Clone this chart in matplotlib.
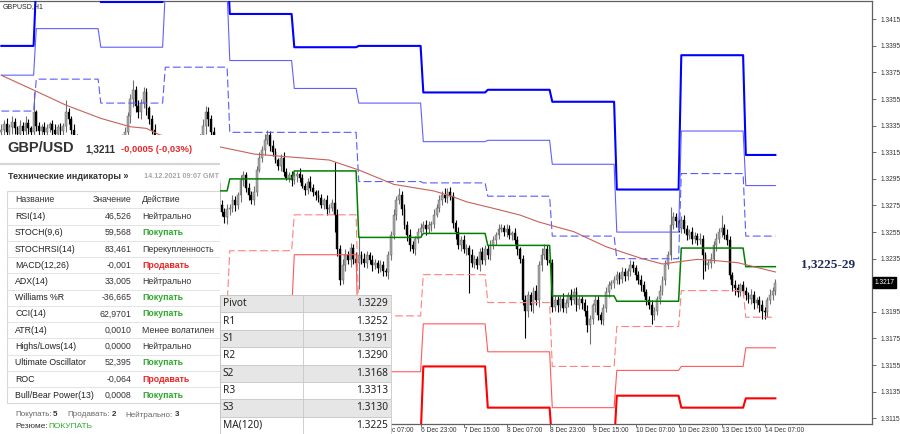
import matplotlib.pyplot as plt
import numpy as np
from matplotlib.patches import Rectangle
from matplotlib.transforms import blended_transform_factory

plt.rcParams['font.family'] = ['Liberation Sans', 'DejaVu Sans']

# GBPUSD H1 closes, in pips above 1.3000, one list per daily pivot period
closes_by_day = [
    [332, 336, 330, 334, 338, 333, 329, 335, 331, 337, 333, 330, 345],
    [335, 331, 334, 330, 333, 336, 332, 329, 334, 331, 335, 345, 340, 332, 326, 322, 318, 315, 310, 312, 308, 305, 310, 312],
    [315, 318, 316, 320, 318, 322, 320, 324, 326, 330, 342, 355, 362, 350, 345, 352, 360, 348, 340, 332, 325, 320, 318, 322],
    [312, 315, 318, 314, 320, 316, 322, 318, 315, 320, 324, 320, 326, 324, 335, 345, 340, 330, 312, 292, 275, 270, 266, 272],
    [273, 279, 275, 283, 294, 298, 288, 283, 279, 285, 302, 311, 317, 324, 328, 320, 315, 309, 305, 311, 300, 296, 298, 294],
    [297, 299, 296, 290, 287, 293, 288, 285, 283, 281, 275, 279, 272, 273, 277, 268, 242, 219, 230, 238, 234, 243, 235, 232],
    [238, 235, 232, 238, 234, 230, 232, 228, 230, 226, 225, 238, 253, 268, 279, 283, 272, 260, 253, 245, 242, 250, 255, 258],
    [260, 257, 260, 261, 268, 273, 279, 283, 281, 285, 282, 262, 255, 245, 249, 242, 243, 238, 232, 235, 230, 240, 234, 242],
    [238, 245, 249, 253, 257, 258, 255, 257, 253, 254, 249, 242, 235, 204, 196, 208, 200, 211, 204, 230, 238, 242, 234, 232],
    [199, 204, 200, 205, 198, 202, 208, 204, 210, 200, 205, 202, 196, 185, 190, 200, 204, 193, 189, 198, 210, 215, 217, 219],
    [223, 220, 225, 222, 226, 230, 228, 223, 219, 215, 210, 204, 200, 193, 196, 205, 211, 219, 230, 238, 260, 266, 263, 258],
    [264, 257, 253, 255, 250, 252, 249, 250, 238, 230, 232, 235, 245, 250, 255, 258, 253, 249, 223, 215, 213, 210, 215, 211],
    [208, 205, 208, 202, 204, 200, 196, 195, 204, 208, 211, 217],
]
first_open = 330

# upper / lower shadow length of each candle, pips
wick_up_by_day = [
    [4, 3, 5, 2, 4, 3, 2, 4, 3, 5, 3, 2, 15],
    [2, 3, 2, 4, 3, 2, 3, 4, 2, 3, 2, 9, 3, 2, 4, 3, 2, 3, 4, 2, 3, 4, 2, 3],
    [3, 2, 4, 3, 2, 3, 4, 2, 3, 4, 3, 4, 7, 3, 4, 3, 4, 3, 2, 3, 4, 3, 2, 3],
    [3, 2, 4, 3, 2, 3, 4, 3, 2, 3, 4, 3, 2, 3, 5, 5, 4, 3, 4, 6, 3, 4, 3, 4],
    [3, 4, 3, 2, 4, 3, 2, 4, 3, 5, 3, 4, 3, 5, 4, 3, 4, 3, 2, 3, 4, 3, 2, 3],
    [3, 2, 4, 3, 2, 3, 4, 3, 2, 4, 3, 2, 4, 3, 3, 31, 4, 3, 5, 4, 3, 4, 3, 5],
    [14, 3, 4, 3, 2, 4, 3, 2, 4, 3, 2, 3, 3, 4, 3, 5, 3, 4, 3, 4, 3, 2, 3, 4],
    [3, 4, 3, 2, 4, 3, 4, 3, 5, 3, 4, 3, 2, 4, 3, 4, 3, 2, 4, 3, 2, 3, 4, 3],
    [3, 4, 3, 2, 4, 3, 2, 4, 3, 2, 4, 3, 2, 3, 4, 3, 2, 3, 4, 3, 5, 4, 3, 2],
    [3, 4, 3, 2, 4, 3, 2, 4, 3, 4, 3, 2, 3, 4, 3, 2, 4, 3, 2, 3, 4, 3, 2, 3],
    [3, 2, 4, 3, 2, 4, 3, 2, 3, 4, 3, 2, 3, 4, 3, 2, 4, 3, 4, 3, 14, 4, 3, 2],
    [3, 4, 3, 2, 4, 3, 2, 4, 3, 2, 3, 4, 3, 4, 3, 10, 3, 4, 3, 2, 4, 3, 2, 3],
    [3, 2, 4, 3, 2, 3, 4, 3, 2, 4, 3, 3],
]
wick_dn_by_day = [
    [5, 4, 6, 3, 5, 4, 3, 5, 4, 6, 4, 3, 5],
    [4, 3, 5, 3, 4, 3, 4, 5, 3, 4, 3, 5, 4, 3, 5, 4, 3, 4, 5, 3, 4, 5, 3, 4],
    [4, 3, 5, 4, 3, 4, 5, 3, 4, 5, 4, 5, 6, 5, 4, 5, 4, 5, 4, 3, 4, 5, 4, 3],
    [4, 3, 5, 4, 3, 4, 5, 4, 3, 4, 5, 4, 3, 4, 5, 6, 5, 4, 5, 6, 4, 3, 4, 5],
    [4, 3, 4, 3, 5, 4, 3, 4, 3, 4, 3, 2, 3, 4, 3, 4, 3, 2, 3, 4, 3, 2, 3, 4],
    [3, 4, 3, 2, 4, 3, 2, 3, 4, 3, 2, 3, 4, 3, 2, 13, 5, 4, 3, 4, 3, 5, 4, 3],
    [20, 4, 3, 4, 3, 4, 3, 4, 3, 4, 3, 5, 4, 3, 4, 3, 4, 3, 5, 4, 3, 4, 3, 4],
    [3, 4, 3, 4, 3, 2, 3, 4, 3, 4, 3, 4, 5, 3, 4, 3, 4, 29, 3, 4, 3, 4, 3, 4],
    [3, 4, 3, 4, 3, 2, 3, 4, 3, 4, 3, 4, 3, 4, 21, 5, 4, 6, 4, 5, 4, 3, 4, 3],
    [4, 3, 5, 4, 3, 4, 3, 4, 3, 4, 3, 5, 4, 5, 14, 4, 5, 4, 3, 4, 3, 4, 3, 4],
    [3, 4, 3, 4, 3, 4, 3, 4, 3, 4, 3, 4, 3, 7, 4, 3, 4, 3, 4, 3, 4, 3, 4, 3],
    [4, 3, 4, 3, 4, 3, 4, 3, 18, 4, 3, 4, 3, 4, 3, 4, 3, 4, 3, 4, 5, 4, 3, 4],
    [4, 3, 4, 5, 4, 5, 6, 5, 4, 3, 4, 3],
]

# daily pivot levels (one value per day above)
lvl_R3 = [1.3395, 1.3445, 1.3428, 1.3460, 1.3419, 1.3394, 1.3395, 1.3360, 1.3362, 1.3353, 1.3287, 1.3388, 1.3313]
lvl_R2 = [1.3373, 1.3408, 1.3394, 1.3436, 1.3384, 1.3363, 1.3352, 1.3323, 1.3324, 1.3306, 1.3255, 1.3331, 1.3290]
lvl_R1 = [1.3346, 1.3370, 1.3352, 1.3379, 1.3330, 1.3330, 1.3293, 1.3292, 1.3282, 1.3252, 1.3235, 1.3299, 1.3252]
lvl_P = [1.3300, 1.3318, 1.3310, 1.3286, 1.3295, 1.3301, 1.3251, 1.3254, 1.3245, 1.3207, 1.3203, 1.3243, 1.3229]
lvl_S1 = [1.3262, 1.3280, 1.3268, 1.3200, 1.3241, 1.3268, 1.3192, 1.3223, 1.3202, 1.3154, 1.3184, 1.3211, 1.3191]
lvl_S2 = [1.3235, 1.3255, 1.3245, 1.3170, 1.3195, 1.3238, 1.3150, 1.3186, 1.3165, 1.3123, 1.3151, 1.3154, 1.3168]
lvl_S3 = [1.3195, 1.3215, 1.3205, 1.3130, 1.3160, 1.3200, 1.3100, 1.3154, 1.3123, 1.3095, 1.3132, 1.3123, 1.3130]

# MA(120) read at some bars, pips above 1.3000
ma_bar = [0, 12, 24, 37, 48, 54, 59, 81, 94, 106, 122, 133, 146, 161, 168, 173, 183, 193, 200, 213, 225, 238, 246, 252, 259, 266, 274, 280, 288]
ma_pips = [372.9, 361.8, 350.5, 340.5, 334.2, 333.0, 328.0, 319.2, 313.7, 311.7, 309.2, 301.7, 290.9, 285.9, 281.6, 277.8,
           272.9, 267.8, 262.6, 255.3, 244.0, 235.3, 231.0, 232.7, 234.5, 233.5, 232.0, 229.0, 225.0]

tick_bars = [140, 156, 172, 188, 204, 220, 236, 252, 268, 284]
tick_text = ['6 Dec 07:00', '6 Dec 23:00', '7 Dec 15:00', '8 Dec 07:00', '8 Dec 23:00',
             '9 Dec 15:00', '10 Dec 07:00', '10 Dec 23:00', '13 Dec 15:00', '14 Dec 07:00']
price_ticks = [1.3115, 1.3135, 1.3155, 1.3175, 1.3195, 1.3215, 1.3235, 1.3255,
               1.3275, 1.3295, 1.3315, 1.3335, 1.3355, 1.3375, 1.3395, 1.3415]
last_price = 1.3217

ind_names = ['RSI(14)', 'STOCH(9,6)', 'STOCHRSI(14)', 'MACD(12,26)', 'ADX(14)', 'Williams %R', 'CCI(14)',
             'ATR(14)', 'Highs/Lows(14)', 'Ultimate Oscillator', 'ROC', 'Bull/Bear Power(13)']
ind_values = ['46,526', '59,568', '83,461', '-0,001', '33,005', '-36,665', '62,9701',
              '0,0010', '0,0000', '52,395', '-0,064', '0,0008']
ind_actions = ['Нейтрально', 'Покупать', 'Перекупленность', 'Продавать', 'Нейтрально', 'Покупать', 'Покупать',
               'Менее волатилен', 'Нейтрально', 'Покупать', 'Продавать', 'Покупать']

piv_names = ['Pivot', 'R1', 'S1', 'R2', 'S2', 'R3', 'S3', 'MA(120)']
piv_values = ['1.3229', '1.3252', '1.3191', '1.3290', '1.3168', '1.3313', '1.3130', '1.3225']


# ---------- build candles ----------
day_counts = [len(d) for d in closes_by_day]
closes = 1.3 + np.concatenate(closes_by_day) / 10000.0
opens = np.r_[1.3 + first_open / 10000.0, closes[:-1]]
highs = np.maximum(opens, closes) + np.concatenate(wick_up_by_day) / 10000.0
lows = np.minimum(opens, closes) - np.concatenate(wick_dn_by_day) / 10000.0
bars = np.arange(len(closes))
bull = closes >= opens

fig = plt.figure(figsize=(9, 4.34), dpi=100)
ax = fig.add_axes([0, 10 / 434, 872 / 900, 423 / 434])
ax.set_facecolor('white')

ax.vlines(bars[bull], lows[bull], highs[bull], color='#707070', lw=0.8, zorder=2)
ax.vlines(bars[~bull], lows[~bull], highs[~bull], color='black', lw=0.8, zorder=2)
ax.bar(bars, closes - opens, bottom=opens, width=0.7,
       color=np.where(bull, '#a8a8a8', 'black'), edgecolor=np.where(bull, '#5a5a5a', 'black'),
       linewidth=0.3, zorder=2.5)

dash = (0, (7, 3))
levels = [
    (lvl_R3, '#0000ff', 1.5, '-'),
    (lvl_R2, '#6060ff', 0.8, '-'),
    (lvl_R1, '#5a5aff', 0.8, dash),
    (lvl_P, '#008000', 1.1, '-'),
    (lvl_S1, '#ff8080', 0.8, dash),
    (lvl_S2, '#ff5a5a', 0.8, '-'),
    (lvl_S3, '#ff0000', 1.5, '-'),
]
for vals, col, lw, ls in levels:
    ax.plot(bars, np.repeat(vals, day_counts), color=col, lw=lw, ls=ls, zorder=3)

ax.plot(ma_bar, 1.3 + np.array(ma_pips) / 10000.0, color='#c8605a', lw=0.8, zorder=3)

ax.set_xlim(-0.506, 323.96)
ax.set_ylim(1.311071, 1.342876)

ax.yaxis.tick_right()
ax.set_yticks(price_ticks)
# the 1.3215 label sits under the current price tag
ax.set_yticklabels(['' if abs(p - last_price) < 0.0005 else '%.4f' % p for p in price_ticks])
ax.set_xticks(tick_bars)
ax.set_xticklabels(tick_text)
for lab in ax.get_xticklabels():
    lab.set_horizontalalignment('left')
ax.tick_params(axis='both', labelsize=4.8, colors='#555555', labelcolor='#333333', width=0.6)
ax.tick_params(axis='x', length=2, pad=0.4)
ax.tick_params(axis='y', length=3, pad=3)
for side in ['top', 'right', 'bottom']:
    ax.spines[side].set_color('#606060')
    ax.spines[side].set_linewidth(0.9)
ax.spines['left'].set_visible(False)

trans = blended_transform_factory(ax.transAxes, ax.transData)
ax.text(1.0025, last_price, '%.4f' % last_price, transform=trans, fontsize=4.8, color='white',
        va='center', ha='left', bbox=dict(facecolor='black', edgecolor='black', pad=1.2), clip_on=False)

ax.text(3 / 872, 1 - 6 / 423, 'GBPUSD,H1', transform=ax.transAxes, fontsize=5, color='#222222', va='center')
ax.text(801 / 872, (424 - 264) / 423, '1,3225-29', transform=ax.transAxes, fontsize=9.5,
        family='Liberation Serif', fontweight='bold', color='#1c2a5a', va='center', ha='left')

# ---------- technical indicators panel ----------
pan = fig.add_axes([0, 0, 220 / 900, 299 / 434])
pan.set_xlim(0, 220)
pan.set_ylim(434, 135)
pan.set_xticks([])
pan.set_yticks([])
for s in pan.spines.values():
    s.set_visible(False)
pan.set_facecolor('white')

pan.text(7, 148, 'GBP/USD', fontsize=10.5, fontweight='bold', color='#333333', va='center')
pan.text(85, 149, '1,3211', fontsize=7.2, fontweight='bold', color='#333333', va='center')
pan.text(121, 149, '-0,0005 (-0,03%)', fontsize=6.8, fontweight='bold', color='#e8282b', va='center')
pan.plot([0, 220], [163.5, 163.5], color='#d6d6d6', lw=1.6)
pan.text(8, 176.5, 'Технические индикаторы »', fontsize=6.5, fontweight='bold', color='#333333', va='center')
pan.text(144, 176.5, '14.12.2021 09:07 GMT', fontsize=5.2, fontweight='bold', color='#a8a8a8', va='center')

pan.add_patch(Rectangle((7, 191), 213, 212, facecolor='none', edgecolor='#d8d8d8', lw=0.8))
pan.text(15, 200, 'Название', fontsize=6.3, color='#333333', va='center')
pan.text(131.5, 200, 'Значение', fontsize=6.3, color='#333333', va='center', ha='right')
pan.text(142, 200, 'Действие', fontsize=6.3, color='#333333', va='center')
row_h = 16.25
act_color = {'Покупать': '#2eaa2e', 'Продавать': '#f02424'}
for k, (nm, val, act) in enumerate(zip(ind_names, ind_values, ind_actions)):
    yc = 216.5 + k * row_h
    pan.plot([7, 220], [yc - row_h / 2, yc - row_h / 2], color='#e4e4e4', lw=0.7)
    pan.text(15, yc, nm, fontsize=6.3, color='#222222', va='center')
    pan.text(131.5, yc, val, fontsize=6.3, color='#333333', va='center', ha='right')
    pan.text(142, yc, act, fontsize=6.3, color=act_color.get(act, '#333333'), va='center',
             fontweight='bold' if act in act_color else 'normal')

pan.text(15, 415, 'Покупать:', fontsize=5.8, color='#666666', va='center')
pan.text(53, 415, '5', fontsize=5.8, color='#333333', fontweight='bold', va='center')
pan.text(67, 415, 'Продавать:', fontsize=5.8, color='#666666', va='center')
pan.text(111.5, 415, '2', fontsize=5.8, color='#333333', fontweight='bold', va='center')
pan.text(125, 415, 'Нейтрально:', fontsize=5.8, color='#666666', va='center')
pan.text(175, 415, '3', fontsize=5.8, color='#333333', fontweight='bold', va='center')
pan.text(15, 427, 'Резюме:', fontsize=6, color='#333333', va='center')
pan.text(48.5, 427, 'ПОКУПАТЬ', fontsize=6, color='#2eaa2e', va='center')

# ---------- pivot levels table ----------
tab = fig.add_axes([220 / 900, 0, 171 / 900, 139 / 434])
tab.set_xlim(220, 391)
tab.set_ylim(434, 295)
tab.set_xticks([])
tab.set_yticks([])
for s in tab.spines.values():
    s.set_color('#c8c8c8')
    s.set_linewidth(0.6)
rh = 139 / 8
for k, (nm, val) in enumerate(zip(piv_names, piv_values)):
    top = 295 + k * rh
    tab.add_patch(Rectangle((220, top), 171, rh, facecolor='#e6e6e6' if k % 2 == 0 else 'white',
                            edgecolor='#c8c8c8', lw=0.6))
    tab.text(222.5, top + rh / 2, nm, fontsize=7.3, family='Noto Sans', color='#222222', va='center')
    tab.text(388, top + rh / 2, val, fontsize=7.3, family='Noto Sans', color='#222222', va='center', ha='right')
tab.plot([302.5, 302.5], [295, 434], color='#c8c8c8', lw=0.6)

fig.savefig('out.png', dpi=100)
